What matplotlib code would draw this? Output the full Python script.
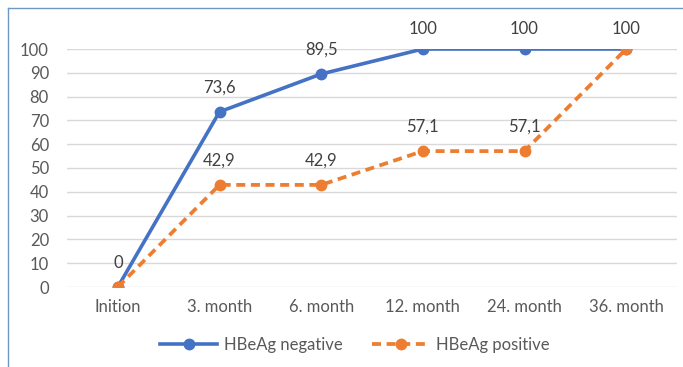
import matplotlib.pyplot as plt
from matplotlib.lines import Line2D

# data
months = ['Inition', '3. month', '6. month', '12. month', '24. month', '36. month']
hbeag_negative = [0, 73.6, 89.5, 100, 100, 100]
hbeag_positive = [0, 42.9, 42.9, 57.1, 57.1, 100]
neg_labels = ['0', '73,6', '89,5', '100', '100', '100']
pos_labels = ['0', '42,9', '42,9', '57,1', '57,1', '100']

blue = '#4472C4'
orange = '#ED7D31'
text_col = '#404040'
tick_col = '#595959'

plt.rcParams['font.family'] = ['Lato', 'DejaVu Sans']

fig = plt.figure(figsize=(6.83, 3.67), dpi=100)
ax = fig.add_axes([67 / 683, 1 - 287 / 367, 610 / 683, 238 / 367])

x = list(range(len(months)))

ax.plot(x, hbeag_negative, color=blue, lw=2.6, marker='o', markersize=7.5,
        label='HBeAg negative', zorder=3)
ax.plot(x, hbeag_positive, color=orange, lw=2.7, marker='o', markersize=7.5,
        dashes=(2.4, 1.5), label='HBeAg positive', zorder=4)

# value labels above each point; labels at the top sit a bit lower
def label_offset(v):
    return 20 if v >= 100 else 24

for i in x:
    ax.annotate(neg_labels[i], (i, hbeag_negative[i]),
                xytext=(0, label_offset(hbeag_negative[i])),
                textcoords='offset pixels', ha='center', va='center',
                fontsize=12, color=text_col, annotation_clip=False)
    if pos_labels[i] != neg_labels[i]:
        ax.annotate(pos_labels[i], (i, hbeag_positive[i]),
                    xytext=(0, label_offset(hbeag_positive[i])),
                    textcoords='offset pixels', ha='center', va='center',
                    fontsize=12, color=text_col, annotation_clip=False)

ax.set_xlim(-0.5, len(months) - 0.5)
ax.set_ylim(0, 100)
ax.set_yticks(range(0, 101, 10))
ax.set_xticks(x)
ax.set_xticklabels(months)
ax.tick_params(axis='both', length=0, labelsize=12, labelcolor=tick_col)
ax.tick_params(axis='y', pad=13)
ax.tick_params(axis='x', pad=9)

ax.grid(axis='y', color='#D9D9D9', lw=1)
ax.set_axisbelow(True)
for s in ax.spines.values():
    s.set_visible(False)

ax.legend(loc='center', bbox_to_anchor=(0.472, -0.245), ncol=2, frameon=False,
          fontsize=12, labelcolor=tick_col, handlelength=3.4, columnspacing=1.8,
          handletextpad=0.4)

# chart frame, left and top edges
fig.add_artist(Line2D([8 / 683, 8 / 683], [0, 1 - 8 / 367], color='#6C9AC4', lw=1))
fig.add_artist(Line2D([8 / 683, 1], [1 - 8 / 367, 1 - 8 / 367], color='#6C9AC4', lw=1))

fig.savefig('out.png', dpi=100)
